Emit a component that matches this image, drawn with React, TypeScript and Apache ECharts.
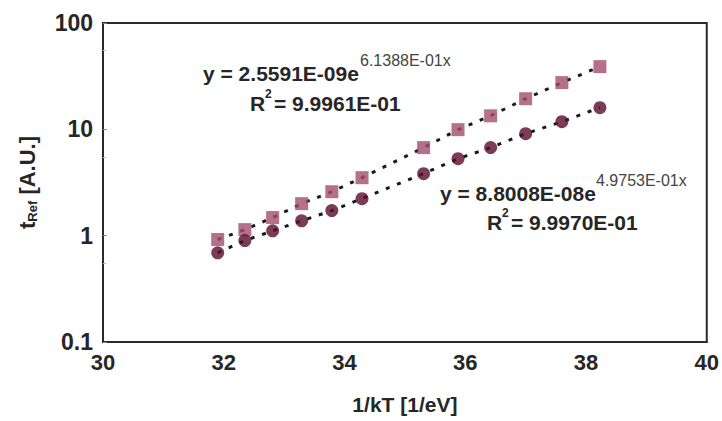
import React, { useEffect, useRef } from "react";
import * as echarts from "echarts";

const invKT = [31.9, 32.35, 32.81, 33.29, 33.79, 34.29, 35.31, 35.88, 36.42, 37.0, 37.6, 38.23];
const squareVals = [0.92, 1.14, 1.48, 2.0, 2.59, 3.51, 6.73, 9.93, 13.4, 19.4, 27.5, 38.9];
const circleVals = [0.69, 0.9, 1.11, 1.38, 1.72, 2.23, 3.83, 5.3, 6.73, 9.11, 11.8, 16.0];
const xTicks = [30, 32, 34, 36, 38, 40];
const yTicks = [0.1, 1, 10, 100];

const fit1 = { eq: "y = 2.5591E-09e", exp: "6.1388E-01x", r2: "9.9961E-01" };
const fit2 = { eq: "y = 8.8008E-08e", exp: "4.9753E-01x", r2: "9.9970E-01" };

export default function App() {
  const ref = useRef<HTMLDivElement>(null);
  useEffect(() => {
    const chart = echarts.init(ref.current!, null, { renderer: "svg" });
    const sq = invKT.map((x, i) => [x, squareVals[i]]);
    const ci = invKT.map((x, i) => [x, circleVals[i]]);
    const font = "Liberation Sans, Arial, sans-serif";
    const txt = "#262626";
    chart.setOption({
      animation: false,
      backgroundColor: "#ffffff",
      grid: {
        left: 103,
        right: 15,
        top: 23,
        bottom: 79,
        show: true,
        borderColor: "#2a2a2a",
        borderWidth: 2,
        backgroundColor: "transparent",
      },
      xAxis: {
        type: "value",
        min: xTicks[0],
        max: xTicks[xTicks.length - 1],
        interval: 2,
        splitLine: { show: false },
        axisLine: { lineStyle: { color: "#2a2a2a", width: 2 } },
        axisTick: { show: false },
        axisLabel: {
          color: txt,
          fontFamily: font,
          fontWeight: "bold",
          fontSize: 22,
          margin: 9,
          formatter: (v: number) => (xTicks.includes(v) ? String(v) : ""),
        },
        name: "1/kT [1/eV]",
        nameLocation: "middle",
        nameGap: 52,
        nameTextStyle: { color: txt, fontFamily: font, fontWeight: "bold", fontSize: 21 },
      },
      yAxis: {
        type: "log",
        logBase: 10,
        min: yTicks[0],
        max: yTicks[yTicks.length - 1],
        splitLine: { show: false },
        axisLine: { lineStyle: { color: "#2a2a2a", width: 2 } },
        axisTick: { show: true, inside: true, length: 4, lineStyle: { color: "#888" } },
        minorTick: { show: true, splitNumber: 2, length: 3, lineStyle: { color: "#bbb" } },
        axisLabel: {
          color: txt,
          fontFamily: font,
          fontWeight: "bold",
          fontSize: 23,
          margin: 10,
          formatter: (v: number) => String(v),
        },
        name: "{t|t}{s|Ref}{t| [A.U.]}",
        nameLocation: "middle",
        nameRotate: 90,
        nameGap: 64,
        nameTextStyle: {
          rich: {
            t: { color: txt, fontFamily: font, fontWeight: "bold", fontSize: 22 },
            s: { color: txt, fontFamily: font, fontWeight: "bold", fontSize: 13, padding: [10, 0, 0, 0] },
          },
        },
      },
      series: [
        {
          type: "line",
          data: sq,
          showSymbol: false,
          symbol: "none",
          lineStyle: { color: "#1a1a1a", type: [4, 8], width: 3 },
          z: 1,
        },
        {
          type: "line",
          data: ci,
          showSymbol: false,
          symbol: "none",
          lineStyle: { color: "#1a1a1a", type: [4, 8], width: 3 },
          z: 1,
        },
        {
          type: "scatter",
          data: sq,
          symbol: "rect",
          symbolSize: 13,
          itemStyle: { color: "#a24d6c" },
          z: 3,
        },
        {
          type: "scatter",
          data: ci,
          symbol: "circle",
          symbolSize: 13,
          itemStyle: { color: "#5a0d2b" },
          z: 3,
        },
      ],
      graphic: [
        { type: "text", x: 203, y: 73, style: { text: fit1.eq, fill: txt, font: `bold 21px ${font}`, textVerticalAlign: "middle" } },
        { type: "text", x: 360, y: 60, style: { text: fit1.exp, fill: "#444", font: `16px ${font}`, textVerticalAlign: "middle" } },
        { type: "text", x: 250, y: 103, style: { text: "R", fill: txt, font: `bold 21px ${font}`, textVerticalAlign: "middle" } },
        { type: "text", x: 265, y: 94, style: { text: "2", fill: txt, font: `bold 12px ${font}`, textVerticalAlign: "middle" } },
        { type: "text", x: 274, y: 103, style: { text: "= " + fit1.r2, fill: txt, font: `bold 21px ${font}`, textVerticalAlign: "middle" } },
        { type: "text", x: 440, y: 193, style: { text: fit2.eq, fill: txt, font: `bold 21px ${font}`, textVerticalAlign: "middle" } },
        { type: "text", x: 596, y: 180, style: { text: fit2.exp, fill: "#444", font: `16px ${font}`, textVerticalAlign: "middle" } },
        { type: "text", x: 487, y: 222, style: { text: "R", fill: txt, font: `bold 21px ${font}`, textVerticalAlign: "middle" } },
        { type: "text", x: 502, y: 213, style: { text: "2", fill: txt, font: `bold 12px ${font}`, textVerticalAlign: "middle" } },
        { type: "text", x: 511, y: 222, style: { text: "= " + fit2.r2, fill: txt, font: `bold 21px ${font}`, textVerticalAlign: "middle" } },
      ],
    });
    return () => chart.dispose();
  }, []);
  return <div ref={ref} style={{ width: 722, height: 421, position: "absolute", left: 0, top: 0 }} />;
}
